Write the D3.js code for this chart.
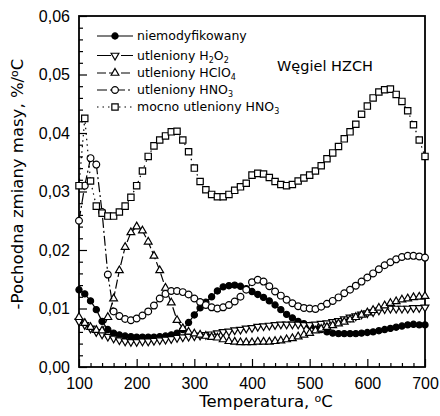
<!DOCTYPE html>
<html>
<head>
<meta charset="utf-8">
<script src="https://cdn.jsdelivr.net/npm/d3@7"></script>
<style>
  body { margin: 0; background: #fff; }
  svg { display: block; }
</style>
</head>
<body>
<svg id="chart"></svg>
<script>
// Temperatures (°C) and the derivative of mass change (%/°C) for each sample
const temps = [100, 110, 120, 130, 140, 150, 160, 170, 180, 190,
  200, 210, 220, 230, 240, 250, 260, 270, 280, 290,
  300, 310, 320, 330, 340, 350, 360, 370, 380, 390,
  400, 410, 420, 430, 440, 450, 460, 470, 480, 490,
  500, 510, 520, 530, 540, 550, 560, 570, 580, 590,
  600, 610, 620, 630, 640, 650, 660, 670, 680, 690, 700];

const niemodyfikowany = [0.0132, 0.0125, 0.0113, 0.0098, 0.0078, 0.0064, 0.0058, 0.0055, 0.0053, 0.0052,
  0.0051, 0.0051, 0.0051, 0.0051, 0.0052, 0.0053, 0.0055, 0.0058, 0.0064, 0.0076,
  0.0089, 0.0101, 0.0111, 0.0120, 0.0130, 0.0137, 0.0139, 0.0140, 0.0138, 0.0134,
  0.0129, 0.0124, 0.0119, 0.0113, 0.0106, 0.0098, 0.0090, 0.0084, 0.0078, 0.0074,
  0.0071, 0.0068, 0.0064, 0.0060, 0.0058, 0.0057, 0.0057, 0.0057, 0.0057, 0.0058,
  0.0059, 0.0060, 0.0062, 0.0064, 0.0066, 0.0068, 0.0070, 0.0072, 0.0073, 0.0072, 0.0072];

const utlenionyH2O2 = [0.0078, 0.0072, 0.0066, 0.0060, 0.0056, 0.0052, 0.0049, 0.0046, 0.0044, 0.0043,
  0.0043, 0.0044, 0.0044, 0.0045, 0.0046, 0.0047, 0.0048, 0.0050, 0.0051, 0.0052,
  0.0053, 0.0054, 0.0055, 0.0056, 0.0058, 0.0060, 0.0061, 0.0063, 0.0064, 0.0066,
  0.0067, 0.0069, 0.0070, 0.0071, 0.0072, 0.0073, 0.0073, 0.0073, 0.0073, 0.0072,
  0.0072, 0.0073, 0.0074, 0.0075, 0.0077, 0.0079, 0.0082, 0.0085, 0.0087, 0.0090,
  0.0092, 0.0094, 0.0097, 0.0099, 0.0100, 0.0100, 0.0100, 0.0100, 0.0101, 0.0101, 0.0102];

const utlenionyHClO4 = [0.0085, 0.0075, 0.0068, 0.0063, 0.0062, 0.0085, 0.0117, 0.0165, 0.0205, 0.0230,
  0.0240, 0.0233, 0.0214, 0.0190, 0.0165, 0.0135, 0.0110, 0.0080, 0.0066, 0.0060,
  0.0057, 0.0055, 0.0053, 0.0051, 0.0050, 0.0047, 0.0044, 0.0043, 0.0042, 0.0042,
  0.0042, 0.0043, 0.0043, 0.0043, 0.0044, 0.0045, 0.0047, 0.0049, 0.0052, 0.0055,
  0.0058, 0.0062, 0.0065, 0.0068, 0.0071, 0.0074, 0.0077, 0.0081, 0.0085, 0.0089,
  0.0093, 0.0097, 0.0101, 0.0105, 0.0109, 0.0112, 0.0115, 0.0117, 0.0119, 0.0120, 0.0121];

const utlenionyHNO3 = [0.0250, 0.0310, 0.0357, 0.0346, 0.0265, 0.0158, 0.0095, 0.0087, 0.0082, 0.0080,
  0.0083, 0.0088, 0.0095, 0.0105, 0.0117, 0.0125, 0.0130, 0.0130, 0.0128, 0.0124,
  0.0117, 0.0111, 0.0106, 0.0102, 0.0100, 0.0102, 0.0106, 0.0112, 0.0120, 0.0132,
  0.0145, 0.0149, 0.0146, 0.0138, 0.0129, 0.0122, 0.0115, 0.0109, 0.0104, 0.0101,
  0.0100, 0.0099, 0.0103, 0.0108, 0.0113, 0.0119, 0.0126, 0.0132, 0.0139, 0.0146,
  0.0153, 0.0160, 0.0167, 0.0174, 0.0179, 0.0184, 0.0188, 0.0190, 0.0190, 0.0189, 0.0187];

const mocnoUtlenionyHNO3 = [0.0310, 0.0425, 0.0318, 0.0275, 0.0263, 0.0258, 0.0258, 0.0265, 0.0275, 0.0290,
  0.0310, 0.0335, 0.0360, 0.0378, 0.0388, 0.0395, 0.0402, 0.0403, 0.0388, 0.0368,
  0.0340, 0.0317, 0.0303, 0.0295, 0.0291, 0.0291, 0.0295, 0.0302, 0.0308, 0.0314,
  0.0328, 0.0331, 0.0330, 0.0324, 0.0317, 0.0312, 0.0310, 0.0312, 0.0318, 0.0323,
  0.0328, 0.0335, 0.0344, 0.0356, 0.0366, 0.0377, 0.0390, 0.0402, 0.0415, 0.0432,
  0.0446, 0.0460, 0.0470, 0.0474, 0.0475, 0.0466, 0.0454, 0.0438, 0.0414, 0.0388, 0.0360];

// legend labels, "_n" marks a subscript digit
const seriesLabels = ['niemodyfikowany', 'utleniony H_2O_2', 'utleniony HClO_4', 'utleniony HNO_3', 'mocno utleniony HNO_3'];

const xTicks = [100, 200, 300, 400, 500, 600, 700];
const xMinorTicks = [120, 140, 160, 180, 220, 240, 260, 280, 320, 340, 360, 380, 420, 440, 460, 480, 520, 540, 560, 580, 620, 640, 660, 680];
const yTicks = [0, 0.01, 0.02, 0.03, 0.04, 0.05, 0.06];
const yMinorTicks = [0.002, 0.004, 0.006, 0.008, 0.012, 0.014, 0.016, 0.018, 0.022, 0.024, 0.026, 0.028,
  0.032, 0.034, 0.036, 0.038, 0.042, 0.044, 0.046, 0.048, 0.052, 0.054, 0.056, 0.058];

const chartTitle = 'Węgiel HZCH';
// "^o" marks a raised small o (the degree-like sign in the source)
const xTitle = 'Temperatura, ^oC';
const yTitle = '-Pochodna zmiany masy, %/^oC';

// Layout
const width = 440, height = 416;
const margin = { top: 16, right: 15, bottom: 49, left: 79 };
const plotW = width - margin.left - margin.right;
const plotH = height - margin.top - margin.bottom;

const svg = d3.select('#chart')
  .attr('width', width)
  .attr('height', height);

const x = d3.scaleLinear().domain([100, 700]).range([margin.left, margin.left + plotW]);
const y = d3.scaleLinear().domain([0, 0.06]).range([margin.top + plotH, margin.top]);

// Styles of each series
const styles = [
  { values: niemodyfikowany, symbol: d3.symbolCircle, size: 30, fill: '#000', rotate: 0, dash: null },
  { values: utlenionyH2O2, symbol: d3.symbolTriangle, size: 26, fill: '#fff', rotate: 180, dash: '14,4,2,4' },
  { values: utlenionyHClO4, symbol: d3.symbolTriangle, size: 26, fill: '#fff', rotate: 0, dash: '9,3' },
  { values: utlenionyHNO3, symbol: d3.symbolCircle, size: 36, fill: '#fff', rotate: 0, dash: '10,3,2,3' },
  { values: mocnoUtlenionyHNO3, symbol: d3.symbolSquare, size: 40, fill: '#fff', rotate: 0, dash: '1.5,4' }
];

// Axes (ticks pointing inward)
svg.append('g')
  .attr('transform', `translate(0,${margin.top + plotH})`)
  .call(d3.axisBottom(x).tickValues(xTicks).tickSize(-8).tickPadding(11).tickFormat(d3.format('d')));
svg.append('g')
  .attr('transform', `translate(0,${margin.top + plotH})`)
  .call(d3.axisBottom(x).tickValues(xMinorTicks).tickSize(-4).tickFormat(''));

svg.append('g')
  .attr('transform', `translate(${margin.left},0)`)
  .call(d3.axisLeft(y).tickValues(yTicks).tickSize(-8).tickPadding(9)
    .tickFormat(d => d3.format('.2f')(d).replace('.', ',')));
svg.append('g')
  .attr('transform', `translate(${margin.left},0)`)
  .call(d3.axisLeft(y).tickValues(yMinorTicks).tickSize(-4).tickFormat(''));

svg.selectAll('.domain').remove();
svg.selectAll('.tick line').attr('stroke', '#000').attr('stroke-width', 1.2);
svg.selectAll('.tick text')
  .attr('fill', '#000')
  .style('font-family', '"Liberation Sans", Arial, sans-serif')
  .style('font-size', '16px');
// empty minor tick labels are not needed
svg.selectAll('.tick text').filter(function () { return this.textContent === ''; }).remove();

// Frame
svg.append('rect')
  .attr('x', margin.left)
  .attr('y', margin.top)
  .attr('width', plotW)
  .attr('height', plotH)
  .attr('fill', 'none')
  .attr('stroke', '#000')
  .attr('stroke-width', 1.8);

// Series: line + markers
const line = d3.line()
  .x((d, i) => x(temps[i]))
  .y(d => y(d));

styles.forEach(s => {
  svg.append('path')
    .datum(s.values)
    .attr('d', line)
    .attr('fill', 'none')
    .attr('stroke', '#000')
    .attr('stroke-width', 1.2)
    .attr('stroke-dasharray', s.dash);

  svg.append('g')
    .selectAll('path')
    .data(s.values)
    .join('path')
    .attr('d', d3.symbol(s.symbol, s.size))
    .attr('transform', (d, i) => `translate(${x(temps[i])},${y(d)}) rotate(${s.rotate})`)
    .attr('fill', s.fill)
    .attr('stroke', '#000')
    .attr('stroke-width', 1.2);
});

// writes a label with _n subscripts and ^o raised letters into a text element
function richText(t, str, small, sub, sup) {
  let offset = 0;
  str.split(/(_\d|\^o)/).filter(p => p.length).forEach(p => {
    let target = 0, size = null, txt = p;
    if (p[0] === '_') { target = sub; size = small; txt = p.slice(1); }
    else if (p[0] === '^') { target = -sup; size = small; txt = p.slice(1); }
    const ts = t.append('tspan').attr('dy', target - offset).text(txt);
    if (size) ts.style('font-size', size);
    offset = target;
  });
}

// Legend
const legendRows = [36, 55.5, 73, 90, 107];
const legend = svg.append('g');
styles.forEach((s, i) => {
  const ly = legendRows[i];
  legend.append('line')
    .attr('x1', 97).attr('x2', 133)
    .attr('y1', ly).attr('y2', ly)
    .attr('stroke', '#000')
    .attr('stroke-width', 1.2)
    .attr('stroke-dasharray', s.dash);
  legend.append('path')
    .attr('d', d3.symbol(s.symbol, s.size))
    .attr('transform', `translate(115,${ly}) rotate(${s.rotate})`)
    .attr('fill', s.fill)
    .attr('stroke', '#000')
    .attr('stroke-width', 1.2);

  const t = legend.append('text')
    .attr('x', 137)
    .attr('y', ly + 4)
    .style('font-family', '"DejaVu Sans", sans-serif')
    .style('font-size', '12.5px');
  richText(t, seriesLabels[i], '8px', 3, 0);
});

// Texts
svg.append('text')
  .attr('x', 277)
  .attr('y', 71)
  .style('font-family', '"DejaVu Sans", sans-serif')
  .style('font-size', '14.5px')
  .text(chartTitle);

const xt = svg.append('text')
  .attr('x', margin.left + plotW / 2 + 14)
  .attr('y', 407)
  .attr('text-anchor', 'middle')
  .style('font-family', '"DejaVu Sans", sans-serif')
  .style('font-size', '16.5px');
richText(xt, xTitle, '11px', 0, 5.5);

const yt = svg.append('text')
  .attr('transform', 'translate(23,184) rotate(-90)')
  .attr('text-anchor', 'middle')
  .style('font-family', '"DejaVu Sans", sans-serif')
  .style('font-size', '16.5px');
richText(yt, yTitle, '11px', 0, 5.5);
</script>
</body>
</html>
